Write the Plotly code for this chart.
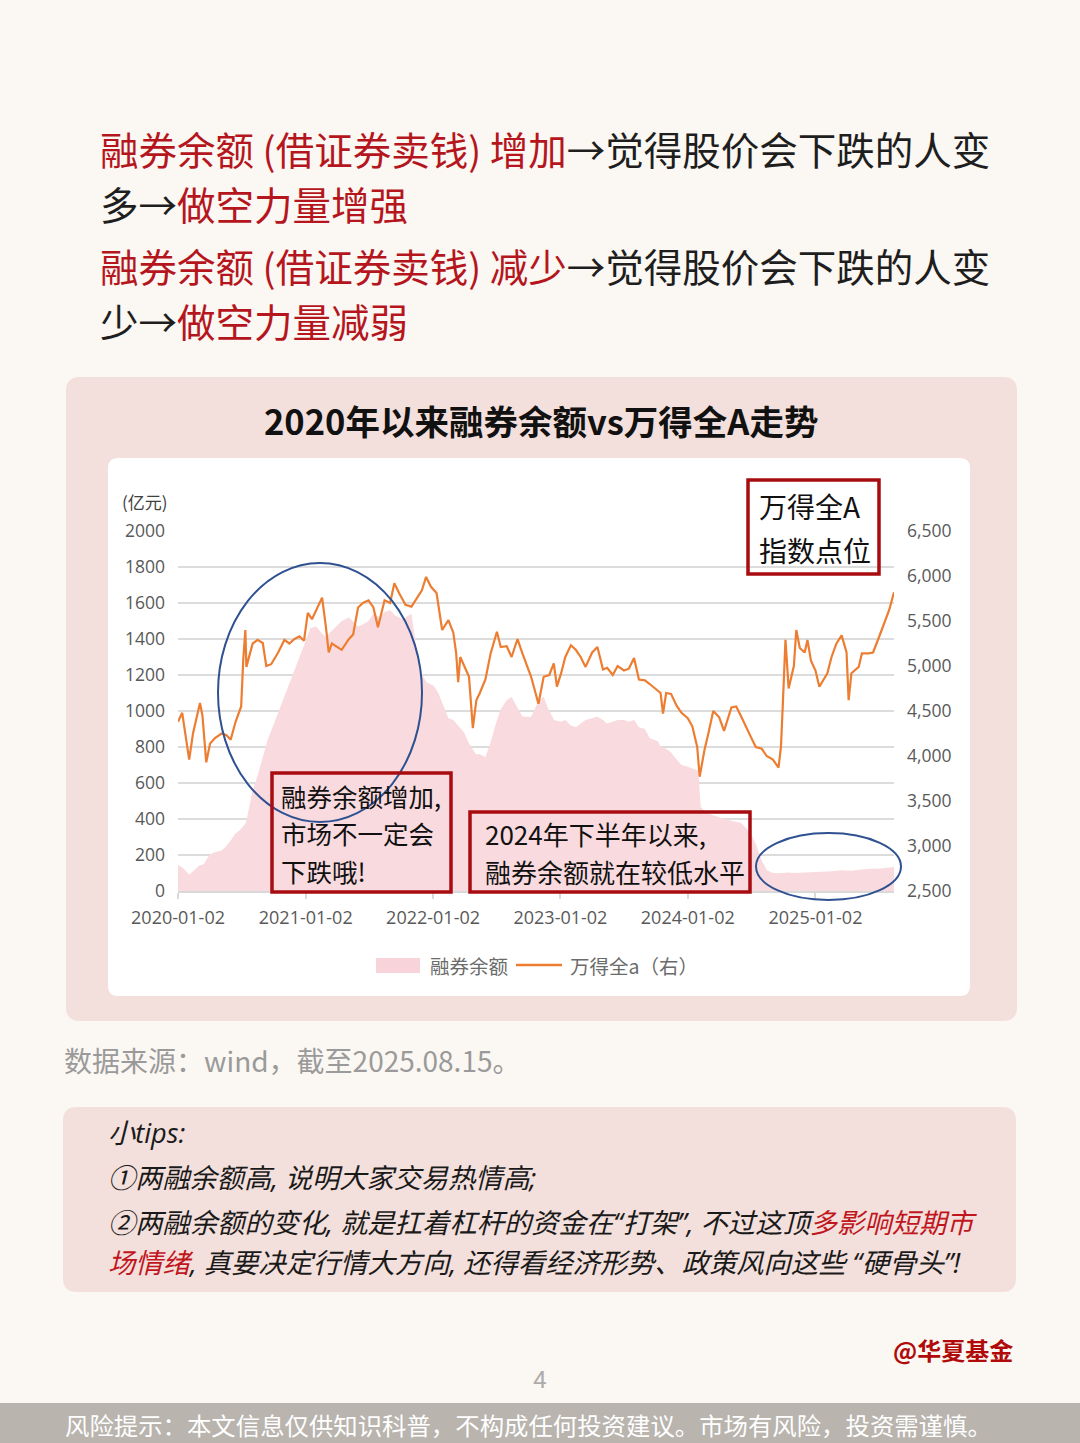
import plotly.graph_objects as go

# ---------------- data ----------------
line_dates = [
    "2020-01-02", "2020-01-14", "2020-02-03", "2020-02-14", "2020-03-05", "2020-03-12", "2020-03-23",
    "2020-04-03", "2020-04-17", "2020-05-06", "2020-05-20", "2020-06-01", "2020-06-15", "2020-07-01",
    "2020-07-07", "2020-07-13", "2020-07-16", "2020-08-03", "2020-08-17", "2020-09-01", "2020-09-11",
    "2020-09-25", "2020-10-15", "2020-11-02", "2020-11-16", "2020-12-01", "2020-12-15", "2020-12-28",
    "2021-01-08", "2021-01-20", "2021-02-01", "2021-02-18", "2021-03-01", "2021-03-09", "2021-03-18",
    "2021-04-01", "2021-04-15", "2021-05-06", "2021-05-18", "2021-06-01", "2021-06-15", "2021-07-01",
    "2021-07-15", "2021-07-28", "2021-08-16", "2021-09-01", "2021-09-13", "2021-09-28", "2021-10-15",
    "2021-11-01", "2021-11-15", "2021-12-01", "2021-12-13", "2021-12-27", "2022-01-12", "2022-01-28",
    "2022-02-15", "2022-03-01", "2022-03-09", "2022-03-15", "2022-03-21", "2022-04-01", "2022-04-15",
    "2022-04-26", "2022-05-06", "2022-05-16", "2022-06-01", "2022-06-16", "2022-07-04", "2022-07-15",
    "2022-08-01", "2022-08-15", "2022-09-01", "2022-09-15", "2022-10-10", "2022-10-31", "2022-11-15",
    "2022-12-01", "2022-12-14", "2022-12-23", "2023-01-04", "2023-01-16", "2023-02-01", "2023-02-15",
    "2023-03-01", "2023-03-15", "2023-04-03", "2023-04-18", "2023-05-04", "2023-05-16", "2023-06-01",
    "2023-06-15", "2023-07-03", "2023-07-17", "2023-08-01", "2023-08-15", "2023-09-01", "2023-09-15",
    "2023-10-09", "2023-10-16", "2023-10-23", "2023-11-01", "2023-11-15", "2023-12-01", "2023-12-15",
    "2024-01-02", "2024-01-15", "2024-01-29", "2024-02-05", "2024-02-19", "2024-03-01", "2024-03-15",
    "2024-04-01", "2024-04-15", "2024-05-06", "2024-05-20", "2024-06-03", "2024-06-17", "2024-07-01",
    "2024-07-15", "2024-08-01", "2024-08-15", "2024-09-02", "2024-09-18", "2024-09-25", "2024-09-30",
    "2024-10-08", "2024-10-17", "2024-11-01", "2024-11-08", "2024-11-18", "2024-12-02", "2024-12-10",
    "2024-12-20", "2025-01-02", "2025-01-13", "2025-02-05", "2025-02-17", "2025-03-03", "2025-03-18",
    "2025-04-01", "2025-04-07", "2025-04-15", "2025-05-06", "2025-05-15", "2025-06-03", "2025-06-16",
    "2025-07-01", "2025-07-15", "2025-08-01", "2025-08-15",
]
line_values = [
    4380, 4480, 3960, 4250, 4590, 4450, 3930,
    4140, 4200, 4250, 4230, 4180, 4380, 4550,
    5070, 5400, 4990, 5250, 5290, 5255, 5000,
    5020, 5150, 5290, 5250, 5300, 5330, 5280,
    5590, 5520, 5620, 5760, 5430, 5150, 5250,
    5210, 5180, 5300, 5350, 5650, 5700, 5730,
    5650, 5430, 5730, 5700, 5920, 5800, 5680,
    5660, 5750, 5840, 5990, 5880, 5810, 5400,
    5510, 5370, 5150, 4820, 5100, 5000, 4880,
    4310, 4620, 4700, 4850, 5140, 5380, 5210,
    5220, 5100, 5300, 5140, 4880, 4580, 4880,
    4900, 5030, 4770, 4920, 5100, 5230, 5180,
    5100, 4990, 5150, 5210, 4960, 4980, 4900,
    5000, 4950, 4970, 5090, 4850, 4840, 4800,
    4730, 4700, 4470, 4700, 4690, 4560, 4480,
    4420, 4330, 4100, 3770, 4070, 4250, 4500,
    4430, 4280, 4540, 4550, 4440, 4320, 4210,
    4100, 4080, 4000, 3960, 3870, 4100, 4540,
    5290, 4750, 5000, 5400, 5200, 5150, 5290,
    5060, 4950, 4770, 4920, 5100, 5250, 5340,
    5150, 4620, 4920, 4990, 5140, 5140, 5150,
    5300, 5450, 5620, 5820,
]

area_dates = [
    "2020-01-02", "2020-01-15", "2020-02-03", "2020-02-17", "2020-03-02", "2020-03-16", "2020-04-01",
    "2020-04-15", "2020-05-06", "2020-05-15", "2020-06-01", "2020-06-15", "2020-07-01", "2020-07-15",
    "2020-08-03", "2020-08-17", "2020-09-01", "2020-09-15", "2020-10-09", "2020-10-15", "2020-11-02",
    "2020-11-16", "2020-12-01", "2020-12-15", "2021-01-04", "2021-01-15", "2021-02-01", "2021-02-18",
    "2021-03-01", "2021-03-15", "2021-04-01", "2021-04-15", "2021-05-06", "2021-05-17", "2021-06-01",
    "2021-06-15", "2021-07-01", "2021-07-15", "2021-08-02", "2021-08-16", "2021-09-01", "2021-09-15",
    "2021-10-08", "2021-10-15", "2021-11-01", "2021-11-15", "2021-12-01", "2021-12-15", "2022-01-04",
    "2022-01-17", "2022-02-07", "2022-02-15", "2022-03-01", "2022-03-15", "2022-04-01", "2022-04-15",
    "2022-05-05", "2022-05-16", "2022-06-01", "2022-06-15", "2022-07-01", "2022-07-15", "2022-08-01",
    "2022-08-15", "2022-09-01", "2022-09-15", "2022-10-10", "2022-10-17", "2022-11-01", "2022-11-15",
    "2022-12-01", "2022-12-15", "2023-01-03", "2023-01-16", "2023-02-01", "2023-02-15", "2023-03-01",
    "2023-03-15", "2023-04-03", "2023-04-17", "2023-05-04", "2023-05-15", "2023-06-01", "2023-06-15",
    "2023-07-03", "2023-07-17", "2023-08-01", "2023-08-15", "2023-09-01", "2023-09-15", "2023-10-09",
    "2023-10-16", "2023-11-01", "2023-11-15", "2023-12-01", "2023-12-15", "2024-01-02", "2024-01-15",
    "2024-02-01", "2024-02-08", "2024-02-19", "2024-03-01", "2024-03-15", "2024-04-01", "2024-04-15",
    "2024-05-06", "2024-05-20", "2024-06-03", "2024-06-17", "2024-07-01", "2024-07-15", "2024-08-01",
    "2024-08-15", "2024-09-02", "2024-09-18", "2024-10-08", "2024-10-17", "2024-11-01", "2024-11-15",
    "2024-12-02", "2024-12-16", "2025-01-02", "2025-01-15", "2025-02-05", "2025-02-17", "2025-03-03",
    "2025-03-17", "2025-04-01", "2025-04-15", "2025-05-06", "2025-05-15", "2025-06-03", "2025-06-16",
    "2025-07-01", "2025-07-15", "2025-08-01", "2025-08-15",
]
area_values = [
    145, 130, 90, 115, 140, 150, 200,
    215, 225, 240, 280, 320, 345, 380,
    560, 640, 740, 840, 960, 990, 1080,
    1150, 1220, 1290, 1400, 1460, 1470, 1430,
    1410, 1440, 1470, 1500, 1520, 1500, 1470,
    1480, 1500, 1540, 1520, 1550, 1560, 1530,
    1510, 1520, 1540, 1350, 1200, 1160, 1140,
    1100, 1000, 960, 950, 920, 880, 820,
    760, 760, 745, 820, 930, 1010, 1060,
    1078, 1022, 970, 967, 1000, 1060, 1078,
    1000, 950, 940, 950, 920, 910, 930,
    950, 960, 970, 950, 930, 940, 950,
    950, 940, 950, 910, 900, 850, 830,
    800, 790, 770, 730, 700, 690, 680,
    670, 470, 440, 430, 420, 410, 400,
    390, 385, 378, 350, 320, 260, 170,
    117, 100, 98, 100, 103, 100, 101,
    104, 102, 105, 104, 108, 110, 112,
    115, 114, 112, 118, 120, 122, 125,
    124, 128, 130, 133,
]

x_tick_vals = ["2020-01-02", "2021-01-02", "2022-01-02", "2023-01-02", "2024-01-02", "2025-01-02"]
x_tick_text = ["2020-01-02", "2021-01-02", "2022-01-02", "2023-01-02", "2024-01-02", "2025-01-02"]
left_ticks = [0, 200, 400, 600, 800, 1000, 1200, 1400, 1600, 1800, 2000]
right_ticks = [2500, 3000, 3500, 4000, 4500, 5000, 5500, 6000, 6500]

# ---------------- helpers ----------------
W, H = 1080, 1443
CJK = "Noto Sans CJK SC"
MIX = "Open Sans, Noto Sans CJK SC"
NUM = "Open Sans, Noto Sans CJK SC"
RED = "#B5161E"
BLK = "#1E1E1E"


def px(x):
    return x / W


def py(y):
    return 1 - y / H


def rrect(x0, y0, x1, y1, r):
    pts = [
        ("M", [(x0 + r, y0)]), ("L", [(x1 - r, y0)]), ("Q", [(x1, y0), (x1, y0 + r)]),
        ("L", [(x1, y1 - r)]), ("Q", [(x1, y1), (x1 - r, y1)]), ("L", [(x0 + r, y1)]),
        ("Q", [(x0, y1), (x0, y1 - r)]), ("L", [(x0, y0 + r)]), ("Q", [(x0, y0), (x0 + r, y0)]),
    ]
    s = ""
    for cmd, ps in pts:
        s += cmd + " " + " ".join(f"{px(a):.5f},{py(b):.5f}" for a, b in ps) + " "
    return s + "Z"


shapes = []
annos = []


def text(x, y, t, size, color=BLK, anchor="left", family=CJK, weight=None):
    f = dict(family=family, size=size, color=color)
    if weight:
        f["weight"] = weight
    annos.append(dict(x=px(x), y=py(y), xref="paper", yref="paper", text=t, showarrow=False,
                      xanchor=anchor, yanchor="middle", font=f, align="left"))


# panels
shapes.append(dict(type="path", path=rrect(66, 377, 1017, 1021, 14), fillcolor="#F3DFDB",
                   line=dict(width=0), layer="below", xref="paper", yref="paper"))
shapes.append(dict(type="path", path=rrect(108, 458, 970, 996, 10), fillcolor="#FFFFFF",
                   line=dict(width=0), layer="below", xref="paper", yref="paper"))
shapes.append(dict(type="path", path=rrect(63, 1107, 1016, 1292, 14), fillcolor="#F3DFDB",
                   line=dict(width=0), layer="below", xref="paper", yref="paper"))
shapes.append(dict(type="rect", x0=0, x1=1, y0=0, y1=py(1403), fillcolor="#B9B4AE",
                   line=dict(width=0), layer="below", xref="paper", yref="paper"))

# ellipses
shapes.append(dict(type="circle", x0=px(218), x1=px(422), y0=py(822), y1=py(563),
                   line=dict(color="#2F5191", width=2), xref="paper", yref="paper"))
shapes.append(dict(type="circle", x0=px(756), x1=px(901), y0=py(900), y1=py(833),
                   line=dict(color="#2F5191", width=2), xref="paper", yref="paper"))

# red boxes
BOX = "#A80C10"
for (a, b, c, d) in [(748, 480, 879, 574), (272, 773, 451, 892), (470, 812, 750, 892)]:
    shapes.append(dict(type="rect", x0=px(a), x1=px(c), y0=py(d), y1=py(b),
                       line=dict(color=BOX, width=3.5), xref="paper", yref="paper"))

# box texts
text(757, 506, "万得全A", 28, "#111111")
text(757, 550, "指数点位", 28, "#111111")
text(279, 795, "融券余额增加,", 25.5, "#111111")
text(279, 832, "市场不一定会", 25.5, "#111111")
text(279, 870, "下跌哦!", 25.5, "#111111")
text(483, 833, "2024年下半年以来,", 26, "#111111")
text(483, 871, "融券余额就在较低水平", 26, "#111111")

# legend (manual)
shapes.append(dict(type="rect", x0=px(376), x1=px(420), y0=py(973), y1=py(958), fillcolor="#F8D3D9",
                   line=dict(width=0), xref="paper", yref="paper"))
shapes.append(dict(type="line", x0=px(516), x1=px(562), y0=py(965), y1=py(965),
                   line=dict(color="#ED7D31", width=2.5), xref="paper", yref="paper"))
text(428, 965, "融券余额", 19.5, "#6B6B6B")
text(568, 965, "万得全a（右）", 19.5, "#6B6B6B")
text(120, 501, "(亿元)", 17, "#404040")


# page texts
def red(s):
    return f"<span style='color:{RED}'>{s}</span>"


text(98, 148, red("融券余额 (借证券卖钱) 增加") + "→觉得股价会下跌的人变", 38.5)
text(98, 203, "多→" + red("做空力量增强"), 38.5)
text(98, 265, red("融券余额 (借证券卖钱) 减少") + "→觉得股价会下跌的人变", 38.5)
text(98, 320, "少→" + red("做空力量减弱"), 38.5)

text(541, 420, "2020年以来融券余额vs万得全A走势", 34.5, "#111111", anchor="center", weight="bold")

text(62, 1060, "数据来源：wind，截至2025.08.15。", 28, "#9A9A9A")

TR = "#C0161E"
text(106, 1132, "<i>小tips:</i>", 27.2, "#1A1A1A", family=MIX)
text(106, 1177, "<i>①两融余额高, 说明大家交易热情高;</i>", 27.2, "#1A1A1A", family=MIX)
text(106, 1222, "<i>②两融余额的变化, 就是扛着杠杆的资金在“打架”, 不过这顶"
     + f"<span style='color:{TR}'>多影响短期市</span></i>", 27.3, "#1A1A1A", family=MIX)
text(106, 1262, f"<i><span style='color:{TR}'>场情绪</span>, 真要决定行情大方向, 还得看经济形势、政策风向这些 “硬骨头”!</i>",
     27.3, "#1A1A1A", family=MIX)

text(1015, 1349, "@华夏基金", 24, "#B00A0A", anchor="right", weight="bold")
text(540, 1380, "4", 24, "#ABABAB", anchor="center", family="Roboto")
text(528, 1424, "风险提示：本文信息仅供知识科普，不构成任何投资建议。市场有风险，投资需谨慎。", 24.4,
     "#FFFFFF", anchor="center")

# ---------------- figure ----------------
fig = go.Figure()
fig.add_trace(go.Scatter(x=area_dates, y=area_values, mode="lines", fill="tozeroy",
                         fillcolor="#F9DADE", line=dict(width=0, color="#F9DADE"),
                         name="融券余额", yaxis="y", hoverinfo="skip"))
fig.add_trace(go.Scatter(x=line_dates, y=line_values, mode="lines",
                         line=dict(color="#ED7D31", width=2.2), name="万得全a（右）", yaxis="y2"))

fig.update_layout(
    width=W, height=H, autosize=False,
    margin=dict(l=0, r=0, t=0, b=0, pad=0, autoexpand=False),
    paper_bgcolor="#FBF7F2", plot_bgcolor="rgba(0,0,0,0)",
    showlegend=False,
    xaxis=dict(type="date", range=["2020-01-02", "2025-08-15"], domain=[px(178), px(894)],
               tickvals=x_tick_vals, ticktext=x_tick_text, showgrid=False, zeroline=False,
               showline=True, linecolor="#D9D9D9", linewidth=1.5, ticks="outside", ticklen=6,
               tickcolor="#D9D9D9", tickwidth=1.5, tickfont=dict(family=NUM, size=18, color="#595959"),
               ticklabelstandoff=4, anchor="y", automargin=False),
    yaxis=dict(range=[0, 2000], domain=[py(891), py(531)], tickvals=left_ticks, showgrid=True,
               gridcolor="#DCDCDC", gridwidth=1.5, zeroline=False, showline=False,
               tickfont=dict(family=NUM, size=17.5, color="#595959"), ticklabelstandoff=12,
               automargin=False),
    yaxis2=dict(range=[2500, 6500], overlaying="y", side="right", tickvals=right_ticks,
                tickformat=",", showgrid=False, zeroline=False, showline=False,
                tickfont=dict(family=NUM, size=17.5, color="#595959"), ticklabelstandoff=12,
                automargin=False),
    shapes=shapes, annotations=annos,
)

fig.write_html("out.html", config={"displayModeBar": False},
               post_script="document.body.style.margin='0';document.body.style.overflow='hidden';")
